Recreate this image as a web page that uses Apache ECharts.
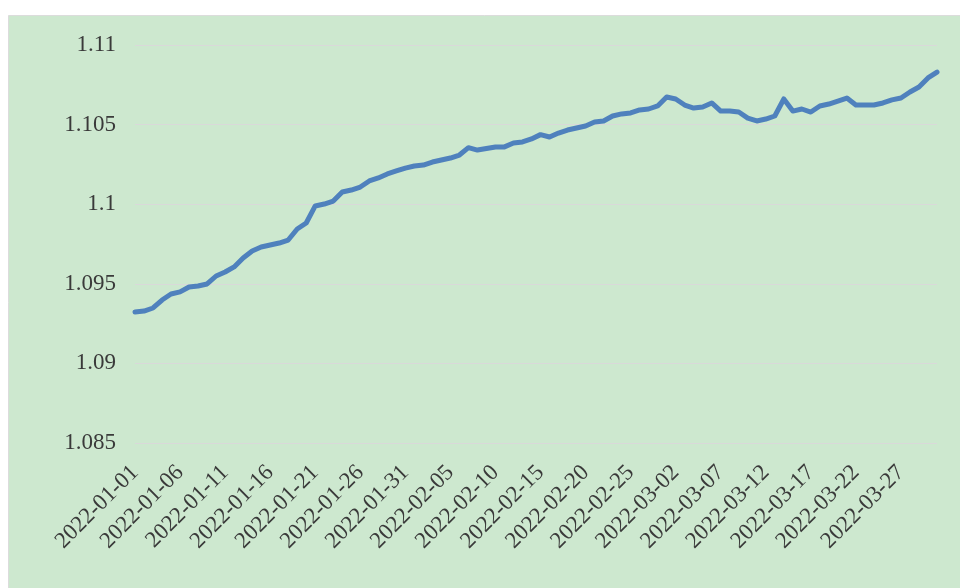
<!DOCTYPE html>
<html>
<head>
    <meta charset="utf-8">
    <title>ECharts</title>
    <script src="https://cdn.jsdelivr.net/npm/echarts@6/dist/echarts.min.js"></script>
    <style>
        html, body { margin: 0; padding: 0; background: #fff; }
    </style>
</head>
<body>
    <div id="main" style="width: 960px;height:588px;"></div>
    <script type="text/javascript">
        // 日期：2022-01-01 到 2022-03-31，每天一个点
        var dates = [
            '2022-01-01','2022-01-02','2022-01-03','2022-01-04','2022-01-05','2022-01-06','2022-01-07','2022-01-08','2022-01-09','2022-01-10',
            '2022-01-11','2022-01-12','2022-01-13','2022-01-14','2022-01-15','2022-01-16','2022-01-17','2022-01-18','2022-01-19','2022-01-20',
            '2022-01-21','2022-01-22','2022-01-23','2022-01-24','2022-01-25','2022-01-26','2022-01-27','2022-01-28','2022-01-29','2022-01-30',
            '2022-01-31','2022-02-01','2022-02-02','2022-02-03','2022-02-04','2022-02-05','2022-02-06','2022-02-07','2022-02-08','2022-02-09',
            '2022-02-10','2022-02-11','2022-02-12','2022-02-13','2022-02-14','2022-02-15','2022-02-16','2022-02-17','2022-02-18','2022-02-19',
            '2022-02-20','2022-02-21','2022-02-22','2022-02-23','2022-02-24','2022-02-25','2022-02-26','2022-02-27','2022-02-28','2022-03-01',
            '2022-03-02','2022-03-03','2022-03-04','2022-03-05','2022-03-06','2022-03-07','2022-03-08','2022-03-09','2022-03-10','2022-03-11',
            '2022-03-12','2022-03-13','2022-03-14','2022-03-15','2022-03-16','2022-03-17','2022-03-18','2022-03-19','2022-03-20','2022-03-21',
            '2022-03-22','2022-03-23','2022-03-24','2022-03-25','2022-03-26','2022-03-27','2022-03-28','2022-03-29','2022-03-30','2022-03-31'
        ];

        // 净值
        var values = [
            1.09323, 1.09329, 1.09348, 1.09398, 1.09436, 1.09449, 1.09480, 1.09486, 1.09499, 1.09549,
            1.09574, 1.09606, 1.09662, 1.09706, 1.09731, 1.09744, 1.09756, 1.09775, 1.09844, 1.09882,
            1.09989, 1.10001, 1.10020, 1.10077, 1.10089, 1.10108, 1.10146, 1.10165, 1.10190, 1.10209,
            1.10227, 1.10240, 1.10246, 1.10265, 1.10278, 1.10290, 1.10309, 1.10355, 1.10340, 1.10350,
            1.10359, 1.10360, 1.10384, 1.10391, 1.10410, 1.10437, 1.10422, 1.10447, 1.10466, 1.10479,
            1.10491, 1.10516, 1.10523, 1.10554, 1.10567, 1.10573, 1.10592, 1.10598, 1.10617, 1.10673,
            1.10661, 1.10623, 1.10604, 1.10611, 1.10636, 1.10585, 1.10585, 1.10579, 1.10541, 1.10523,
            1.10535, 1.10554, 1.10661, 1.10585, 1.10598, 1.10579, 1.10617, 1.10629, 1.10648, 1.10667,
            1.10623, 1.10623, 1.10623, 1.10636, 1.10655, 1.10667, 1.10705, 1.10736, 1.10793, 1.10830
        ];

        var yMin = 1.085, yMax = 1.11, yStep = 0.005;

        var myChart = echarts.init(document.getElementById('main'));

        var option = {
            backgroundColor: '#ffffff',
            animation: false,
            // 绿色底板
            graphic: [{
                type: 'rect',
                left: 8,
                top: 15,
                shape: { width: 960, height: 580 },
                style: { fill: '#cde8cf', stroke: '#dcdcdc', lineWidth: 1 },
                z: -10
            }],
            grid: {
                left: 135,
                right: 23,
                top: 45,
                bottom: 145
            },
            xAxis: {
                type: 'category',
                data: dates,
                boundaryGap: false,
                axisLine: { show: false },
                axisTick: { show: false },
                axisLabel: {
                    interval: 4,
                    rotate: 45,
                    margin: 26,
                    color: '#3a3a3a',
                    fontFamily: 'Liberation Serif',
                    fontSize: 23
                }
            },
            yAxis: {
                type: 'value',
                min: yMin,
                max: yMax,
                interval: yStep,
                axisLine: { show: false },
                axisTick: { show: false },
                axisLabel: {
                    margin: 19,
                    color: '#3a3a3a',
                    fontFamily: 'Liberation Serif',
                    fontSize: 23,
                    formatter: function (v) { return String(+v.toFixed(3)); }
                },
                splitLine: { lineStyle: { color: '#d9d9d9', width: 1 } }
            },
            series: [{
                type: 'line',
                data: values,
                showSymbol: false,
                lineStyle: { color: '#4f81bd', width: 5, cap: 'round', join: 'round' },
                itemStyle: { color: '#4f81bd' }
            }]
        };
        myChart.setOption(option);
    </script>
</body>
</html>
